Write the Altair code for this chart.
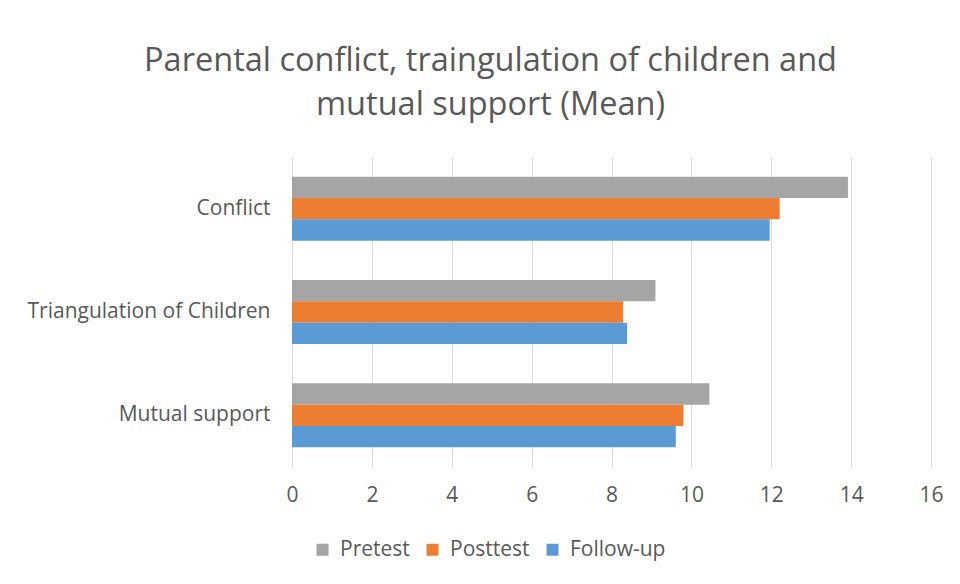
import altair as alt
import pandas as pd

categories = ["Conflict", "Triangulation of Children", "Mutual support"]
series = ["Pretest", "Posttest", "Follow-up"]
pretest = [13.92, 9.10, 10.45]
posttest = [12.21, 8.29, 9.80]
followup = [11.96, 8.39, 9.61]
colors = ["#A5A5A5", "#ED7D31", "#5B9BD5"]

rows = []
for i, c in enumerate(categories):
    for s, vals in zip(series, [pretest, posttest, followup]):
        rows.append({"Category": c, "Series": s, "Value": vals[i]})
df = pd.DataFrame(rows)

FONT = "Open Sans"
TXT = "#595959"
FS = 21

chart = alt.Chart(df).mark_bar().encode(
    y=alt.Y("Category:N", sort=categories, title=None,
            scale=alt.Scale(paddingInner=0.38, paddingOuter=0.19),
            axis=alt.Axis(domain=False, ticks=False, grid=False, labelFontSize=FS,
                          labelColor=TXT, labelFont=FONT, labelPadding=22, labelLimit=400)),
    yOffset=alt.YOffset("Series:N", sort=series),
    x=alt.X("Value:Q", title=None, scale=alt.Scale(domain=[0, 16], nice=False),
            axis=alt.Axis(values=list(range(0, 17, 2)), domain=False, ticks=False,
                          grid=True, gridColor="#D9D9D9", labelFontSize=FS,
                          labelColor=TXT, labelFont=FONT, labelPadding=17,
                          labelFlush=False)),
    color=alt.Color("Series:N", sort=series,
                    scale=alt.Scale(domain=series, range=colors),
                    legend=alt.Legend(title=None, orient="none", direction="horizontal",
                                      legendX=20, legendY=382, symbolType="square",
                                      symbolSize=144, symbolStrokeWidth=0,
                                      labelFontSize=FS, labelColor=TXT, labelFont=FONT,
                                      columnPadding=12, labelOffset=7)),
).properties(
    width=639,
    height=310,
    title=alt.TitleParams(
        ["Parental conflict, traingulation of children and", "mutual support (Mean)"],
        fontSize=32.5, font=FONT, color=TXT, fontWeight="normal",
        anchor="middle", frame="group", dx=-121, offset=36, lineHeight=44),
    autosize=alt.AutoSizeParams(type="none"),
    padding={"left": 284, "top": 149, "right": 20, "bottom": 110},
).configure_view(stroke=None)

chart.save("out.html", embed_options={"renderer": "svg", "actions": False})
